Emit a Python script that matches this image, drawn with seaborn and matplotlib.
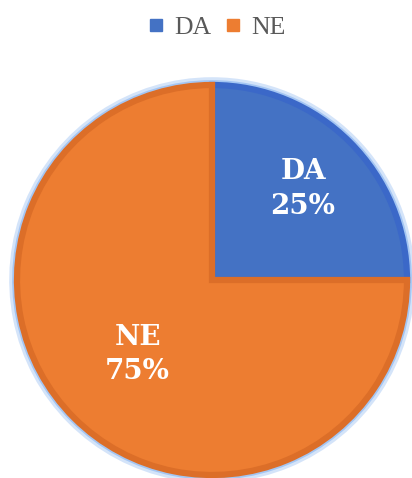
import matplotlib.pyplot as plt
import numpy as np
import seaborn as sns
from matplotlib.lines import Line2D

labels = ["DA", "NE"]
values = [25, 75]
colors = ["#4472C4", "#ED7D31"]
edge_colors = ["#3B68C8", "#DC6E28"]
glow = "#95BCF2"

sns.set_theme(style="white")
plt.rcParams["font.family"] = ["DejaVu Serif"]

fig = plt.figure(figsize=(4.12, 4.78), dpi=100)
ax = fig.add_axes([17 / 412, 3 / 478, 390 / 412, 390 / 478])

# soft light-blue halo behind the pie
for rad, a in [(1.04, 0.4), (1.025, 0.75)]:
    halo, _ = ax.pie(values, colors=[glow] * len(values), startangle=90,
                     counterclock=False, radius=rad,
                     wedgeprops=dict(linewidth=0, alpha=a))
    for h in halo:
        h.set_clip_on(False)

wedges, _ = ax.pie(values, colors=colors, startangle=90, counterclock=False,
                   radius=1.0, wedgeprops=dict(linewidth=0))
for w, ec in zip(wedges, edge_colors):
    w.set_edgecolor(ec)
    w.set_linewidth(4.5)
    w.set_clip_on(False)

total = sum(values)
label_r = [0.66, 0.54]
for w, lab, v, r in zip(wedges, labels, values, label_r):
    ang = np.deg2rad((w.theta1 + w.theta2) / 2)
    ax.text(r * np.cos(ang), r * np.sin(ang), f"{lab}\n{v / total * 100:.0f}%",
            ha="center", va="center", color="white", fontsize=20,
            fontweight="bold", linespacing=1.35)

ax.set_xlim(-1, 1)
ax.set_ylim(-1, 1)
ax.set_aspect("equal")
ax.axis("off")

handles = [Line2D([], [], marker="s", linestyle="", markersize=8.5,
                  markerfacecolor=c, markeredgecolor=c) for c in colors]
fig.legend(handles, labels, loc="center", bbox_to_anchor=(216 / 412, 1 - 28 / 478),
           ncol=2, frameon=False, handlelength=0.8, handletextpad=0.3,
           columnspacing=0.45, labelcolor="#595959",
           prop=dict(family="Liberation Serif", size=18.5))

fig.savefig("out.png", dpi=100)
